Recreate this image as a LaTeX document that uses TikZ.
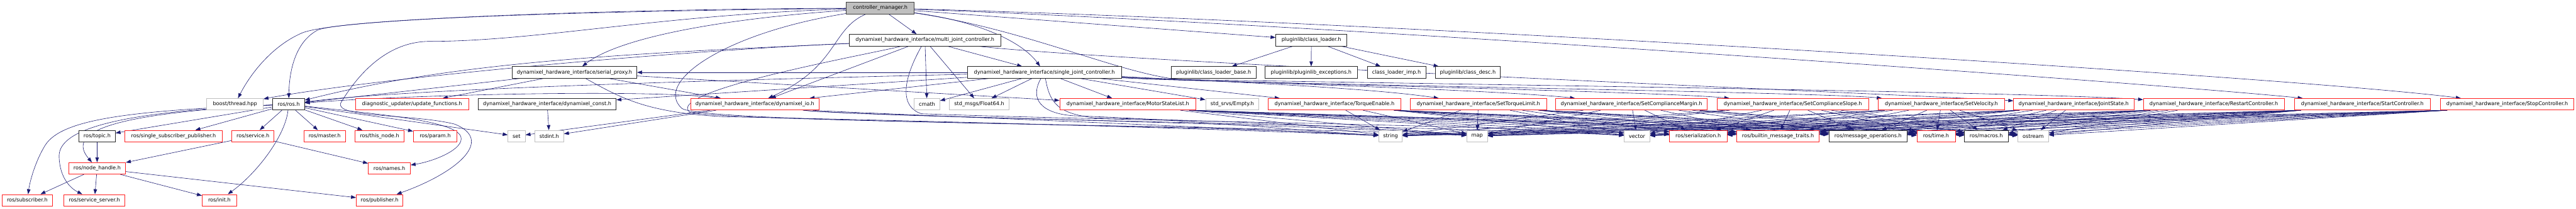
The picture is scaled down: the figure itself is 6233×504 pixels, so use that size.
\documentclass[tikz,border=0pt]{standalone}
\usepackage{fontspec}
\setmainfont{DejaVu Sans}
\usetikzlibrary{arrows.meta,calc}
\pgfdeclarelayer{edgelayer}
\pgfsetlayers{edgelayer,main}
\definecolor{edgeblue}{HTML}{191970}
\definecolor{nodered}{HTML}{FF2020}
\definecolor{nodegray}{HTML}{BFBFBF}
\newcommand\mkn[6]{%
  \pgfmathsetmacro\cxx{(#3+#4)/2}%
  \pgfmathsetmacro\www{#4-#3}%
  \node[#1, minimum width=\www pt] (#2) at (\cxx,#5) {#6};}
\begin{document}
\begin{tikzpicture}[x=1pt,y=-1pt,
  box/.style={rectangle,draw,fill=white,line width=1.1pt,inner sep=0pt,minimum height=28pt,font=\fontsize{12.4}{14}\selectfont},
  blk/.style={box,draw=black!85},
  rd/.style={box,draw=nodered},
  gry/.style={box,draw=nodegray},
  root/.style={box,draw=black!75,fill=nodegray},
  conn/.style={draw=edgeblue,line width=0.9pt,-{Triangle[length=12pt,width=8.5pt]}}]
\useasboundingbox (0,0) rectangle (6233,504);
% row 0
\mkn{root}{cm}{2048}{2212}{19.5}{controller\_manager.h}
% row 1
\mkn{blk}{mjc}{2055}{2421}{97}{dynamixel\_hardware\_interface/multi\_joint\_controller.h}
\mkn{blk}{pcl}{3087}{3259}{97}{pluginlib/class\_loader.h}
% row 2
\mkn{blk}{sp}{1239}{1541}{175}{dynamixel\_hardware\_interface/serial\_proxy.h}
\mkn{blk}{sjc}{2341}{2713}{175}{dynamixel\_hardware\_interface/single\_joint\_controller.h}
\mkn{blk}{clb}{2834}{3039}{175}{pluginlib/class\_loader\_base.h}
\mkn{blk}{pex}{3061}{3284}{175}{pluginlib/pluginlib\_exceptions.h}
\mkn{blk}{cli}{3308}{3450}{175}{class\_loader\_imp.h}
\mkn{blk}{cd}{3473}{3630}{175}{pluginlib/class\_desc.h}
% row 3
\mkn{gry}{bt}{500}{637}{252}{boost/thread.hpp}
\mkn{blk}{rosh}{660}{737}{252}{ros/ros.h}
\mkn{rd}{diag}{860}{1134}{252}{diagnostic\_updater/update\_functions.h}
\mkn{blk}{dconst}{1157}{1491}{252}{dynamixel\_hardware\_interface/dynamixel\_const.h}
\mkn{rd}{dio}{1671}{1982}{252}{dynamixel\_hardware\_interface/dynamixel\_io.h}
\mkn{gry}{cmath}{2212}{2274}{252}{cmath}
\mkn{gry}{f64}{2297}{2442}{252}{std\_msgs/Float64.h}
\mkn{rd}{msl}{2564}{2894}{252}{dynamixel\_hardware\_interface/MotorStateList.h}
\mkn{gry}{empty}{2917}{3046}{252}{std\_srvs/Empty.h}
\mkn{rd}{te}{3069}{3389}{252}{dynamixel\_hardware\_interface/TorqueEnable.h}
\mkn{rd}{stl}{3412}{3742}{252}{dynamixel\_hardware\_interface/SetTorqueLimit.h}
\mkn{rd}{scm}{3764}{4131}{252}{dynamixel\_hardware\_interface/SetComplianceMargin.h}
\mkn{rd}{scs}{4155}{4521}{252}{dynamixel\_hardware\_interface/SetComplianceSlope.h}
\mkn{rd}{sv}{4545}{4850}{252}{dynamixel\_hardware\_interface/SetVelocity.h}
\mkn{rd}{js}{4872}{5163}{252}{dynamixel\_hardware\_interface/JointState.h}
\mkn{rd}{rc}{5186}{5527}{252}{dynamixel\_hardware\_interface/RestartController.h}
\mkn{rd}{startc}{5551}{5881}{252}{dynamixel\_hardware\_interface/StartController.h}
\mkn{rd}{stopc}{5905}{6228}{252}{dynamixel\_hardware\_interface/StopController.h}
% row 4
\mkn{blk}{topic}{191}{279}{329}{ros/topic.h}
\mkn{rd}{ssp}{302}{538}{329}{ros/single\_subscriber\_publisher.h}
\mkn{rd}{service}{561}{663}{329}{ros/service.h}
\mkn{rd}{master}{735}{836}{329}{ros/master.h}
\mkn{rd}{thisnode}{859}{978}{329}{ros/this\_node.h}
\mkn{rd}{param}{1000}{1106}{329}{ros/param.h}
\mkn{gry}{set}{1229}{1271}{329}{set}
\mkn{gry}{stdint}{1294}{1364}{329}{stdint.h}
\mkn{gry}{string}{3336}{3393}{329}{string}
\mkn{gry}{map}{3549}{3599}{329}{map}
\mkn{gry}{vector}{3930}{3992}{329}{vector}
\mkn{rd}{ser}{4039}{4179}{329}{ros/serialization.h}
\mkn{rd}{bmt}{4202}{4402}{329}{ros/builtin\_message\_traits.h}
\mkn{blk}{mo}{4425}{4615}{329}{ros/message\_operations.h}
\mkn{rd}{time}{4638}{4731}{329}{ros/time.h}
\mkn{blk}{macros}{4753}{4859}{329}{ros/macros.h}
\mkn{gry}{ostream}{4882}{4957}{329}{ostream}
% row 5
\mkn{rd}{nh}{166}{304}{407}{ros/node\_handle.h}
\mkn{rd}{names}{891}{993}{407}{ros/names.h}
% row 6
\mkn{rd}{sub}{5}{127}{484}{ros/subscriber.h}
\mkn{rd}{ss}{155}{302}{484}{ros/service\_server.h}
\mkn{rd}{init}{489}{573}{484}{ros/init.h}
\mkn{rd}{pub}{862}{975}{484}{ros/publisher.h}

\begin{pgfonlayer}{edgelayer}
% ---------- edges from controller_manager.h
\draw[conn] (cm) .. controls (1500,26) and (820,42) .. (730,80) .. controls (650,115) and (600,190) .. (bt);
\draw[conn] (cm) .. controls (1500,22) and (850,45) .. (770,72) .. controls (715,100) and (700,170) .. (rosh);
\draw[conn] (cm) .. controls (1750,45) and (1500,90) .. (sp);
\draw[conn] (cm) .. controls (2010,70) and (2030,160) .. (dio);
\draw[conn] (cm) -- (mjc);
\draw[conn] (cm) .. controls (2390,55) and (2480,110) .. (sjc);
\draw[conn] (cm) -- (pcl);
\draw[conn] (cm) .. controls (3200,58) and (5200,200) .. (startc);
\draw[conn] (cm) .. controls (3300,50) and (5550,185) .. (stopc);
\draw[conn] (cm) .. controls (2480,70) and (2700,175) .. (2850,192) .. controls (3600,205) and (4900,222) .. (rc);
\draw[conn] (cm) .. controls (1600,35) and (1300,100) .. (1040,100) .. controls (930,100) and (860,190) .. (825,248) .. controls (805,285) and (1000,275) .. (1100,300) .. controls (1200,340) and (1100,420) .. (pub);
\draw[conn] (cm) .. controls (1750,80) and (1580,200) .. (1650,262) .. controls (1700,300) and (3000,300) .. (map);

% ---------- edges from multi_joint_controller.h
\draw[conn] (mjc) .. controls (1600,125) and (900,190) .. (bt);
\draw[conn] (mjc) .. controls (1500,130) and (1100,150) .. (rosh);
\draw[conn] (mjc) -- (dio);
\draw[conn] (mjc) -- (cmath);
\draw[conn] (mjc) -- (f64);
\draw[conn] (mjc) -- (sjc);
\draw[conn] (mjc) .. controls (2700,150) and (4600,228) .. (js);
\draw[conn] (mjc) .. controls (2110,130) and (1600,220) .. (1670,272) .. controls (1800,295) and (2900,300) .. (string);
\draw[conn] (mjc) .. controls (2180,200) and (2180,260) .. (2230,275) .. controls (2800,295) and (3600,300) .. (vector);

% ---------- edges from single_joint_controller.h
\draw[conn] (sjc) -- (sp);
\draw[conn] (sjc) .. controls (1900,190) and (1000,212) .. (rosh);
\draw[conn] (sjc) -- (dconst);
\draw[conn] (sjc) -- (dio);
\draw[conn] (sjc) -- (cmath);
\draw[conn] (sjc) -- (f64);
\draw[conn] (sjc) -- (msl);
\draw[conn] (sjc) -- (empty);
\draw[conn] (sjc) -- (te);
\draw[conn] (sjc) .. controls (2900,195) and (3300,210) .. (stl);
\draw[conn] (sjc) .. controls (2900,197) and (3600,215) .. (scm);
\draw[conn] (sjc) .. controls (2900,199) and (4000,220) .. (scs);
\draw[conn] (sjc) .. controls (2900,201) and (4400,222) .. (sv);
\draw[conn] (sjc) .. controls (2490,240) and (2520,275) .. (2600,280) .. controls (2900,290) and (3200,320) .. (string);
\draw[conn] (sjc) .. controls (2540,250) and (2560,275) .. (2650,285) .. controls (3100,295) and (3400,315) .. (map);

% ---------- edges from serial_proxy.h
\draw[conn] (sp) -- (rosh);
\draw[conn] (sp) -- (diag);
\draw[conn] (sp) -- (dio);
\draw[conn] (sp) -- (msl);
\draw[conn] (sp) .. controls (1500,235) and (1560,272) .. (1750,282) .. controls (2600,300) and (3100,318) .. (string);

% ---------- edges from dynamixel_io.h / dynamixel_const.h
\draw[conn] (dio) .. controls (1600,215) and (1000,228) .. (rosh);
\draw[conn] (dio) -- (set);
\draw[conn] (dio) -- (stdint);
\draw[conn] (dio) .. controls (2000,270) and (2900,305) .. (string);
\draw[conn] (dio) .. controls (2050,280) and (3200,300) .. (map);
\draw[conn] (dio) .. controls (2100,285) and (3500,305) .. (vector);
\draw[conn] (dconst) -- (stdint);

% ---------- pluginlib
\draw[conn] (pcl) -- (clb);
\draw[conn] (pcl) -- (pex);
\draw[conn] (pcl) -- (cli);
\draw[conn] (pcl) -- (cd);

% ---------- ros/ros.h
\draw[conn] (rosh) -- (topic);
\draw[conn] (rosh) -- (ssp);
\draw[conn] (rosh) -- (service);
\draw[conn] (rosh) -- (master);
\draw[conn] (rosh) -- (thisnode);
\draw[conn] (rosh) -- (param);
\draw[conn] (rosh) -- (set);
\draw[conn] (rosh) .. controls (260,275) and (160,320) .. (nh);
\draw[conn] (rosh) .. controls (300,268) and (150,290) .. (110,350) .. controls (85,390) and (72,440) .. (sub);
\draw[conn] (rosh) .. controls (250,272) and (140,320) .. (143,380) .. controls (145,430) and (170,455) .. (ss);
\draw[conn] (rosh) .. controls (690,330) and (620,420) .. (init);
\draw[conn] (rosh) .. controls (900,275) and (1100,290) .. (1115,330) .. controls (1125,360) and (1050,390) .. (names);
\draw[conn] (topic) -- (nh);
\draw[conn] (service) -- (nh);
\draw[conn] (service) -- (names);
\draw[conn] (nh) -- (sub);
\draw[conn] (nh) -- (ss);
\draw[conn] (nh) -- (init);
\draw[conn] (nh) -- (pub);

% ---------- generated message headers
\foreach \m/\mx/\hw in {msl/2729/165, te/3229/160, stl/3577/165, scm/3947.5/183.5, scs/4338/183, sv/4697.5/152.5, js/5017.5/145.5, rc/5356.5/170.5, startc/5716/165, stopc/6066.5/161.5}{
  \foreach \t/\tx in {string/3364.5, map/3574, vector/3961, ser/4109, bmt/4302, mo/4520, time/4684.5, macros/4806, ostream/4919.5}{
    \pgfmathsetmacro\dx{max(-0.9*\hw,min(0.9*\hw,(\tx-\mx)*0.2))}
    \draw[conn] ($(\m.south)+(\dx,0)$) -- (\t);
  }
}
\end{pgfonlayer}
\end{tikzpicture}
\end{document}
